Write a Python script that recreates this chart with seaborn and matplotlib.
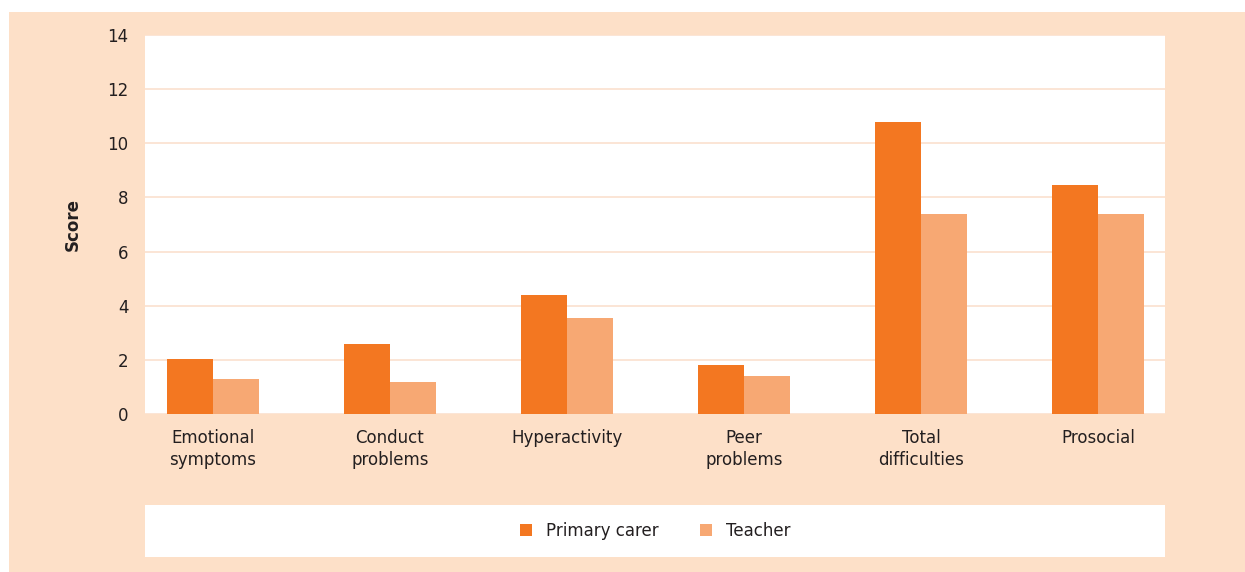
import matplotlib
matplotlib.use("Agg")
import matplotlib.pyplot as plt
from matplotlib.patches import Rectangle
import seaborn as sns
import pandas as pd

# Values
categories = ["Emotional\nsymptoms", "Conduct\nproblems", "Hyperactivity",
              "Peer\nproblems", "Total\ndifficulties", "Prosocial"]
primary_carer = [2.05, 2.6, 4.4, 1.8, 10.8, 8.45]
teacher = [1.3, 1.2, 3.55, 1.4, 7.4, 7.4]
y_ticks = [0, 2, 4, 6, 8, 10, 12, 14]

PEACH = "#FDE0C8"
GRID = "#FBE3D2"
TEXT = "#231F20"
palette = {"Primary carer": "#F37721", "Teacher": "#F7A873"}

df = pd.DataFrame({
    "category": categories * 2,
    "score": primary_carer + teacher,
    "rater": ["Primary carer"] * len(categories) + ["Teacher"] * len(categories),
})

sns.set_theme(style="white")
plt.rcParams["font.family"] = ["DejaVu Sans"]

W, H = 1245, 572
fig = plt.figure(figsize=(W / 100, H / 100), dpi=100, facecolor="white")
# peach panel behind everything (white strip on top and left)
fig.add_artist(Rectangle((9 / W, 0), 1 - 9 / W, 1 - 12 / H, transform=fig.transFigure,
                         facecolor=PEACH, edgecolor="none", zorder=-10))

ax = fig.add_axes([145 / W, 1 - 414 / H, 1020 / W, (414 - 35) / H])
ax.set_facecolor("white")
sns.barplot(data=df, x="category", y="score", hue="rater", palette=palette,
            width=0.52, saturation=1, linewidth=0, ax=ax, legend=False, errorbar=None)

ax.set_xlim(-0.384, 5.378)
ax.set_ylim(0, 14)
ax.set_yticks(y_ticks)
ax.yaxis.grid(True, color=GRID, linewidth=1.3)
ax.set_axisbelow(True)
for s in ax.spines.values():
    s.set_visible(False)
ax.tick_params(axis="both", length=0, labelsize=12, labelcolor=TEXT)
ax.tick_params(axis="y", pad=12)
ax.tick_params(axis="x", pad=11)
for lbl in ax.get_xticklabels():
    lbl.set_linespacing(1.3)
ax.set_xlabel("")
ax.set_ylabel("Score", fontsize=12, fontweight="bold", color=TEXT)
ax.yaxis.set_label_coords((82 - 145) / 1020, 0.5)

# legend in its own white strip
lax = fig.add_axes([145 / W, 1 - 557 / H, 1020 / W, (557 - 505) / H])
lax.set_facecolor("white")
lax.set_xticks([])
lax.set_yticks([])
for s in lax.spines.values():
    s.set_visible(False)
handles = [Rectangle((0, 0), 1, 1, facecolor=c, edgecolor="none") for c in palette.values()]
lax.legend(handles, list(palette.keys()), loc="center", ncol=2, frameon=False,
           fontsize=12, labelcolor=TEXT, handlelength=0.75, handleheight=0.75,
           handletextpad=0.8, columnspacing=2.5)

fig.savefig("out.png", dpi=100, facecolor=fig.get_facecolor())
